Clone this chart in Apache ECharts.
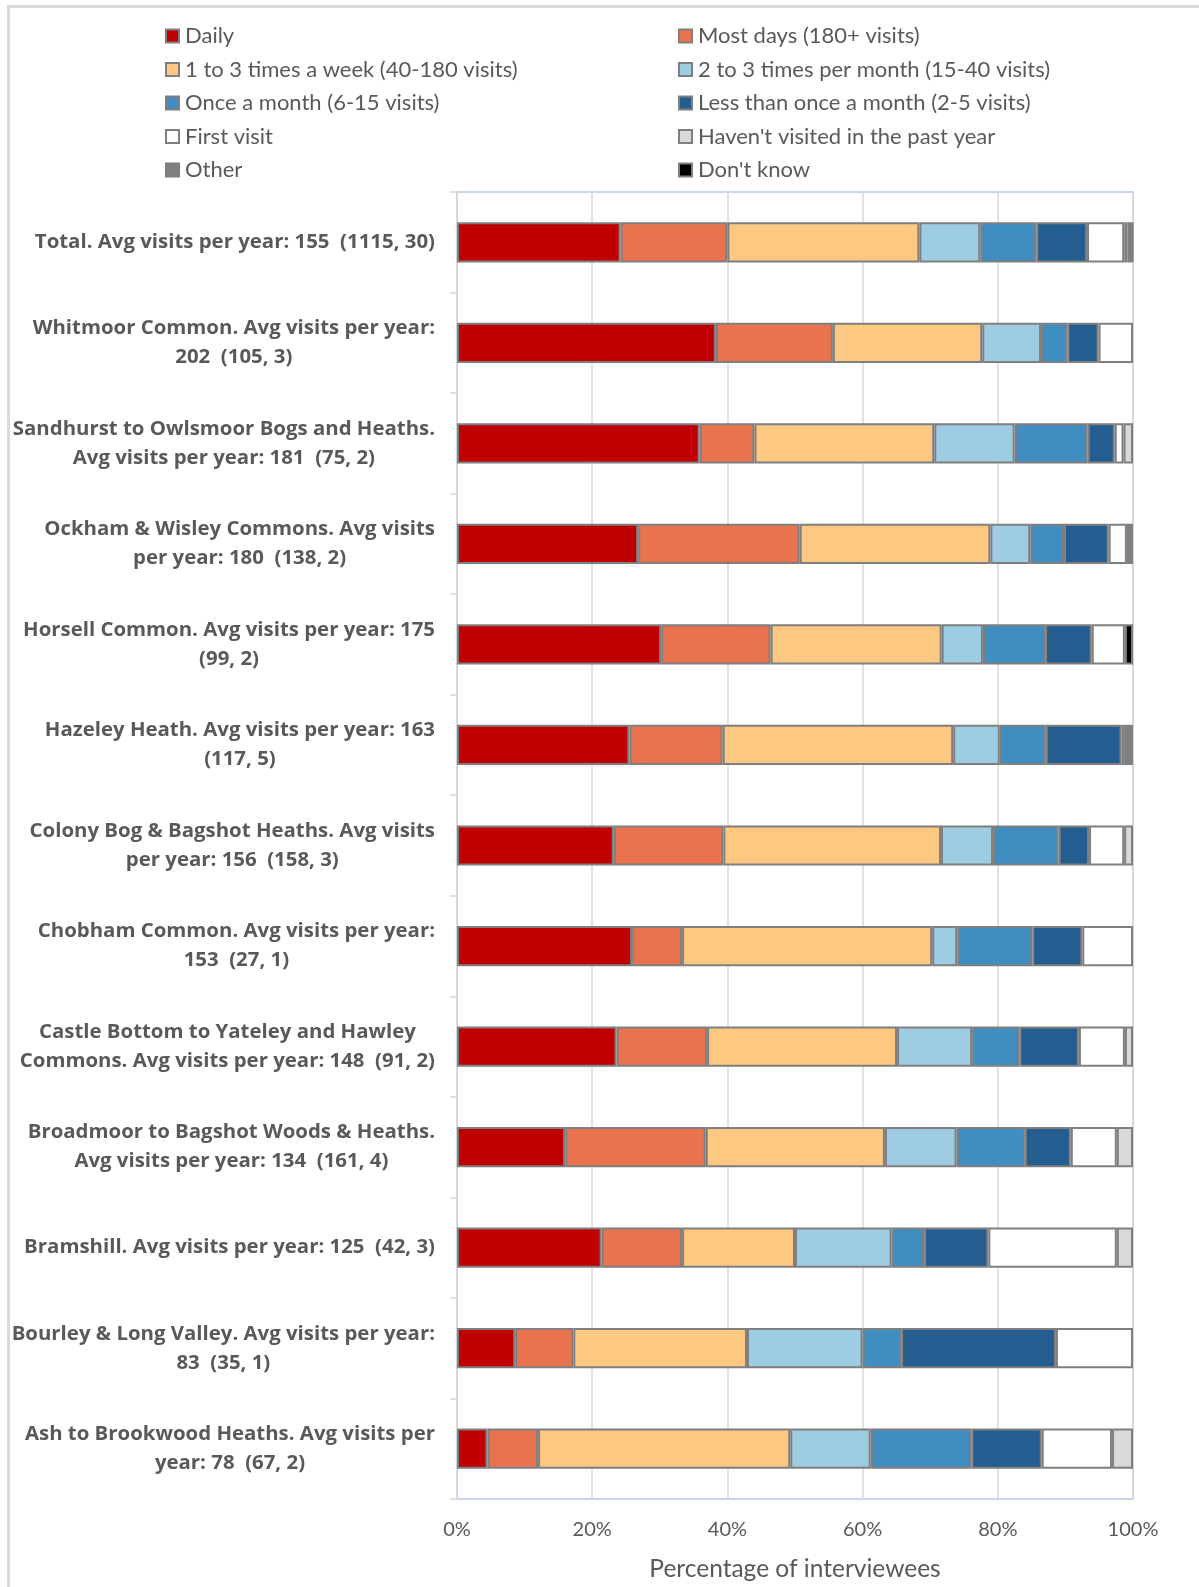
<!DOCTYPE html>
<html>
<head>
<meta charset="utf-8">
<title>Frequency of visits by site</title>
<script src="https://cdn.jsdelivr.net/npm/echarts@6/dist/echarts.min.js"></script>
<style>
  html, body { margin: 0; padding: 0; background: #ffffff; }
  #chart { position: absolute; left: 0; top: 0; width: 1199px; height: 1587px; }
  #frame {
    position: absolute; left: 7px; top: 5px; right: -10px; bottom: -10px;
    border-top: 3px solid #DADADA; border-left: 3px solid #DADADA;
    pointer-events: none;
  }
</style>
</head>
<body>
<div id="chart"></div>
<div id="frame"></div>
<script>
// Sites, top to bottom (line breaks as the labels wrap)
const sites = [
  'Total. Avg visits per year: 155  (1115, 30)',
  'Whitmoor Common. Avg visits per year:\n202  (105, 3)',
  'Sandhurst to Owlsmoor Bogs and Heaths.\nAvg visits per year: 181  (75, 2)',
  'Ockham & Wisley Commons. Avg visits\nper year: 180  (138, 2)',
  'Horsell Common. Avg visits per year: 175\n(99, 2)',
  'Hazeley Heath. Avg visits per year: 163\n(117, 5)',
  'Colony Bog & Bagshot Heaths. Avg visits\nper year: 156  (158, 3)',
  'Chobham Common. Avg visits per year:\n153  (27, 1)',
  'Castle Bottom to Yateley and Hawley\nCommons. Avg visits per year: 148  (91, 2)',
  'Broadmoor to Bagshot Woods & Heaths.\nAvg visits per year: 134  (161, 4)',
  'Bramshill. Avg visits per year: 125  (42, 3)',
  'Bourley & Long Valley. Avg visits per year:\n83  (35, 1)',
  'Ash to Brookwood Heaths. Avg visits per\nyear: 78  (67, 2)'
];

// Percentage of interviewees per visit-frequency answer, one value per site
const daily        = [24.2, 38.3, 35.9, 26.8, 30.2, 25.5, 23.2, 25.9, 23.6, 16.0, 21.4,  8.6,  4.5];
const mostDays     = [15.8, 17.3,  8.1, 23.9, 16.2, 13.8, 16.2,  7.4, 13.4, 20.8, 11.9,  8.6,  7.5];
const weekly       = [28.4, 22.1, 26.6, 28.2, 25.3, 34.1, 32.2, 37.0, 28.1, 26.5, 16.7, 25.7, 37.3];
const twoThreeMo   = [ 9.0,  8.7, 11.9,  5.9,  6.1,  6.9,  7.7,  3.7, 11.1, 10.6, 14.3, 17.1, 11.9];
const onceMonth    = [ 8.3,  3.9, 10.8,  5.0,  9.2,  6.8,  9.7, 11.1,  7.0, 10.1,  4.8,  5.7, 14.9];
const lessMonthly  = [ 7.5,  4.6,  4.0,  6.6,  6.9, 11.2,  4.5,  7.4,  8.8,  6.8,  9.5, 22.9, 10.4];
const firstVisit   = [ 5.5,  5.1,  1.3,  2.7,  4.9,  0.5,  5.2,  7.5,  6.8,  6.8, 19.0, 11.4, 10.4];
const notPastYear  = [ 0.5,  0,    1.4,  0,    0,    0,    1.3,  0,    1.2,  2.4,  2.4,  0,    3.1];
const other        = [ 0.7,  0,    0,    0.9,  0,    1.2,  0,    0,    0,    0,    0,    0,    0  ];
const dontKnow     = [ 0.1,  0,    0,    0,    1.2,  0,    0,    0,    0,    0,    0,    0,    0  ];

const answers = [
  { name: 'Daily',                               data: daily,       color: '#C00000' },
  { name: 'Most days (180+ visits)',             data: mostDays,    color: '#E9724F' },
  { name: '1 to 3 times a week (40-180 visits)', data: weekly,      color: '#FDC982' },
  { name: '2 to 3 times per month (15-40 visits)', data: twoThreeMo, color: '#9ECDE3' },
  { name: 'Once a month (6-15 visits)',          data: onceMonth,   color: '#408EC1' },
  { name: 'Less than once a month (2-5 visits)', data: lessMonthly, color: '#245E91' },
  { name: 'First visit',                         data: firstVisit,  color: '#FFFFFF' },
  { name: "Haven't visited in the past year",    data: notPastYear, color: '#D9D9D9' },
  { name: 'Other',                               data: other,       color: '#808080' },
  { name: "Don't know",                          data: dontKnow,    color: '#000000' }
];

const xTicks = { min: 0, max: 100, step: 20 };

const labelFont = '"Open Sans", "Noto Sans", sans-serif';
const plainFont = 'Lato, "Open Sans", sans-serif';
const textGrey = '#595959';

const leftCol = answers.filter((a, i) => i % 2 === 0).map(a => a.name);
const rightCol = answers.filter((a, i) => i % 2 === 1).map(a => a.name);

const legendBase = {
  orient: 'vertical',
  top: 20,
  icon: 'rect',
  itemWidth: 13,
  itemHeight: 13,
  itemGap: 11.5,
  selectedMode: false,
  textStyle: { fontFamily: plainFont, fontSize: 22, lineHeight: 22, color: textGrey, padding: [0, 0, 0, 1] }
};

const chart = echarts.init(document.getElementById('chart'), null, { renderer: 'canvas' });

chart.setOption({
  animation: false,
  backgroundColor: 'transparent',
  legend: [
    Object.assign({}, legendBase, { left: 160, data: leftCol }),
    Object.assign({}, legendBase, { left: 673, data: rightCol })
  ],
  grid: {
    left: 457, right: 66, top: 192, bottom: 88,
    show: true, borderColor: '#B4C7E7', borderWidth: 1.5, backgroundColor: 'transparent'
  },
  xAxis: {
    type: 'value',
    min: xTicks.min, max: xTicks.max, interval: xTicks.step,
    axisLine: { show: false },
    axisTick: { show: false },
    splitLine: { lineStyle: { color: '#D9D9D9', width: 1.5 } },
    axisLabel: {
      formatter: '{value}%', margin: 21,
      fontFamily: plainFont, fontSize: 20, color: textGrey
    },
    name: 'Percentage of interviewees',
    nameLocation: 'middle',
    nameGap: 58,
    nameTextStyle: { fontFamily: plainFont, fontSize: 24.5, color: textGrey }
  },
  yAxis: {
    type: 'category',
    inverse: true,
    data: sites,
    axisLine: { lineStyle: { color: '#D9D9D9', width: 1.5 } },
    axisTick: { show: true, length: 7, lineStyle: { color: '#D9D9D9', width: 1.5 } },
    axisLabel: {
      margin: 22,
      interval: 0,
      formatter: v => v.split('\n').map(l => '{c|' + l + '}').join('\n'),
      rich: {
        c: {
          align: 'center',
          fontFamily: labelFont, fontWeight: 'bold', fontSize: 20.4, lineHeight: 29,
          color: textGrey
        }
      }
    }
  },
  series: answers.map(a => ({
    name: a.name,
    type: 'bar',
    stack: 'all',
    barWidth: '40%',
    data: a.data.map(v => (v > 0 ? v : '-')),
    itemStyle: { color: a.color, borderColor: '#7F7F7F', borderWidth: 2 },
    emphasis: { disabled: true }
  }))
});
</script>
</body>
</html>
